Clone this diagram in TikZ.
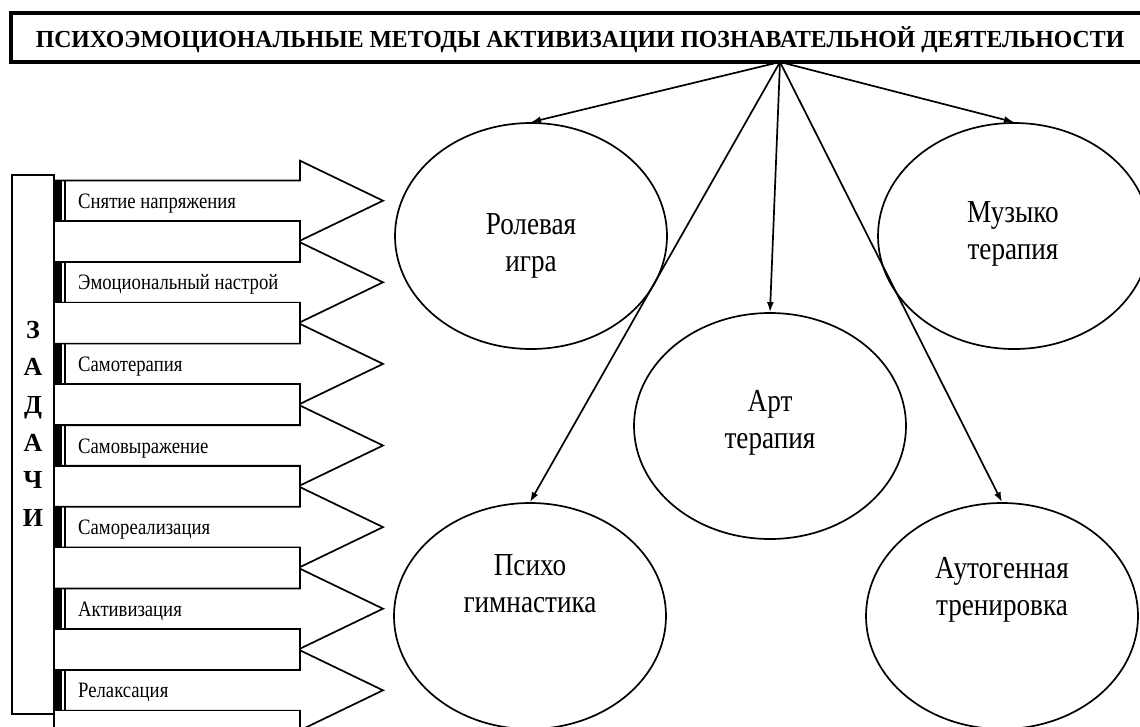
\documentclass[tikz,border=0pt]{standalone}
\usepackage{fontspec}
\setmainfont[FakeStretch=0.85]{Liberation Serif}
\newfontfamily\headfont{Liberation Serif}
\usetikzlibrary{shapes.geometric,arrows.meta}

\begin{document}
\begin{tikzpicture}[x=1pt,y=-1pt,>={Latex[length=10pt,width=7pt]},
	method/.style={draw,ellipse,line width=1.7pt,minimum width=272pt,minimum height=226pt},
	methodtext/.style={align=center,inner sep=0pt,font=\fontsize{32}{37}\selectfont},
	tasktext/.style={anchor=base west,inner sep=0pt,font=\fontsize{22}{24}\selectfont},
	blockarrow/.style={draw,line width=1.7pt,fill=white,line join=miter}]

	\useasboundingbox (0,0) rectangle (1140,726);
	\clip (0,0) rectangle (1140,726);

	\draw[line width=3.5pt] (11,13) rectangle (1170,62);
	\node[anchor=base,inner sep=0pt,font=\headfont\bfseries\fontsize{24.5}{26}\selectfont] (title) at (580,47)
		{\scalebox{0.97}[1]{ПСИХОЭМОЦИОНАЛЬНЫЕ МЕТОДЫ АКТИВИЗАЦИИ ПОЗНАВАТЕЛЬНОЙ ДЕЯТЕЛЬНОСТИ}};
	\coordinate (apex) at (780,62);

	% tasks
	\draw[line width=1.3pt] (12,175) rectangle (54,714);
	\foreach \ch [count=\k from 0] in {З,А,Д,А,Ч,И}
		\node[anchor=base,inner sep=0pt,font=\headfont\bfseries\fontsize{26}{28}\selectfont] (z\k) at (33,338+37.7*\k) {\ch};

	\foreach \t [count=\i from 0] in {Снятие напряжения,Эмоциональный настрой,Самотерапия,Самовыражение,Самореализация,Активизация,Релаксация}{
		\pgfmathsetmacro\cy{200.7+81.6*\i}
		\draw[blockarrow] (54,\cy-20.3) -- (300,\cy-20.3) -- (300,\cy-40) -- (383,\cy)
			-- (300,\cy+40) -- (300,\cy+20.3) -- (54,\cy+20.3) -- cycle;
		\draw[blockarrow] (54,\cy+20.3) rectangle (300,\cy+61.3);
		\fill (54,\cy-20.3) rectangle (62,\cy+20.3);
		\draw[line width=2pt] (65.3,\cy-20.3) -- (65.3,\cy+20.3);
		\node[tasktext] (task\i) at (78,\cy+7.5) {\t};
	}

	% methods
	\node[method] (role) at (531,236) {};
	\node[method] (music) at (1014,236) {};
	\node[method] (art) at (770,426) {};
	\node[method] (psycho) at (530,616) {};
	\node[method] (auto) at (1002,616) {};

	\node[methodtext] (role-t) at (531,246) {Ролевая\\игра};
	\node[methodtext] (music-t) at (1013,234) {Музыко\\терапия};
	\node[methodtext] (art-t) at (770,423) {Арт\\терапия};
	\node[methodtext] (psycho-t) at (530,584) {Психо\\гимнастика};
	\node[methodtext] (auto-t) at (1002,590) {Аутогенная\\тренировка};

	\draw[->,line width=1.7pt] (apex) -- (role.north);
	\draw[->,line width=1.7pt] (apex) -- (music.north);
	\draw[->,line width=1.7pt] (apex) -- (art.north);
	\draw[->,line width=1.7pt] (apex) -- (psycho.north);
	\draw[->,line width=1.7pt] (apex) -- (auto.north);

\end{tikzpicture}
\end{document}
